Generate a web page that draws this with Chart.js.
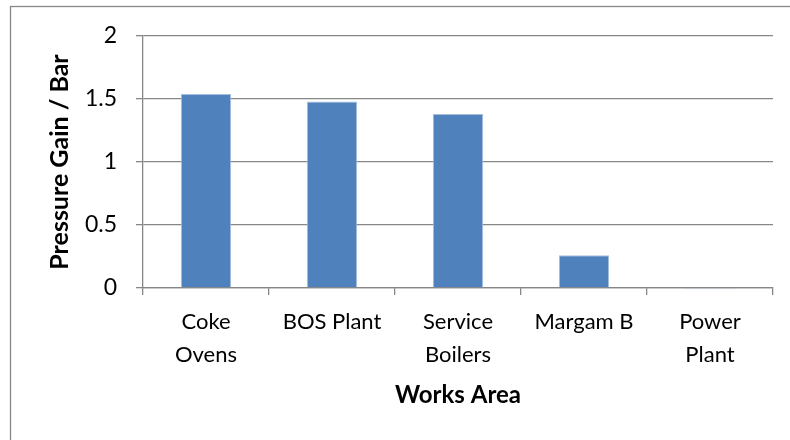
<!DOCTYPE html>
<html>
<head>
<meta charset="utf-8">
<script src="https://cdn.jsdelivr.net/npm/chart.js@4/dist/chart.umd.min.js"></script>
<style>
  html, body { margin: 0; padding: 0; background: #fff; }
  #wrap { width: 790px; height: 440px; position: relative; }
</style>
</head>
<body>
<div id="wrap"><canvas id="chart" width="790" height="440"></canvas></div>
<script>
// Works areas and the pressure gain measured at each (bar)
const categories = [["Coke", "Ovens"], ["BOS Plant"], ["Service", "Boilers"], ["Margam B"], ["Power", "Plant"]];
const pressureGain = [1.54, 1.48, 1.38, 0.26, -0.01];
const yTickValues = [0, 0.5, 1, 1.5, 2];

const GRID = '#878787';
const FONT = 'Lato, "Open Sans", sans-serif';

// Grey frame around the whole chart
const frame = {
  id: 'frame',
  beforeDraw(chart) {
    const ctx = chart.ctx;
    ctx.save();
    ctx.fillStyle = '#fff';
    ctx.fillRect(0, 0, chart.width, chart.height);
    ctx.strokeStyle = GRID;
    ctx.lineWidth = 1.3;
    ctx.strokeRect(10.5, 6.5, chart.width + 20, chart.height + 20);
    ctx.restore();
  }
};

new Chart(document.getElementById('chart'), {
  type: 'bar',
  data: {
    labels: categories,
    datasets: [{
      data: pressureGain,
      backgroundColor: '#4F81BD',
      borderColor: '#a7bfdf',
      borderWidth: 1,
      categoryPercentage: 1,
      barPercentage: 0.4,
      clip: false
    }]
  },
  options: {
    responsive: false,
    animation: false,
    layout: { padding: { top: 36, right: 17, left: 0, bottom: 0 } },
    plugins: { legend: { display: false }, tooltip: { enabled: false } },
    scales: {
      x: {
        offset: true,
        grid: { offset: true, drawOnChartArea: false, drawTicks: true, tickLength: 7, color: GRID, lineWidth: 1.3 },
        border: { color: GRID, width: 1.3 },
        ticks: { color: '#000', font: { family: FONT, size: 22, lineHeight: 1.47 }, padding: 11, maxRotation: 0, autoSkip: false },
        title: { display: true, text: 'Works Area', color: '#000', font: { family: FONT, size: 24, weight: 'bold' }, padding: { top: 0, bottom: 30 } },
        afterFit(scale) { scale.height = 152; }
      },
      y: {
        min: 0,
        max: 2,
        afterBuildTicks(scale) { scale.ticks = yTickValues.map(v => ({ value: v })); },
        grid: { color: GRID, lineWidth: 1.3, tickLength: 7 },
        border: { color: GRID, width: 1.3 },
        ticks: { color: '#000', font: { family: FONT, size: 23 }, padding: 19,
                 callback: v => String(v) },
        title: { display: true, text: 'Pressure Gain / Bar', color: '#000', font: { family: FONT, size: 25, weight: 'bold' }, padding: { top: 45, bottom: 0 } },
        afterFit(scale) { scale.width = 143; }
      }
    }
  },
  plugins: [frame]
});
</script>
</body>
</html>
